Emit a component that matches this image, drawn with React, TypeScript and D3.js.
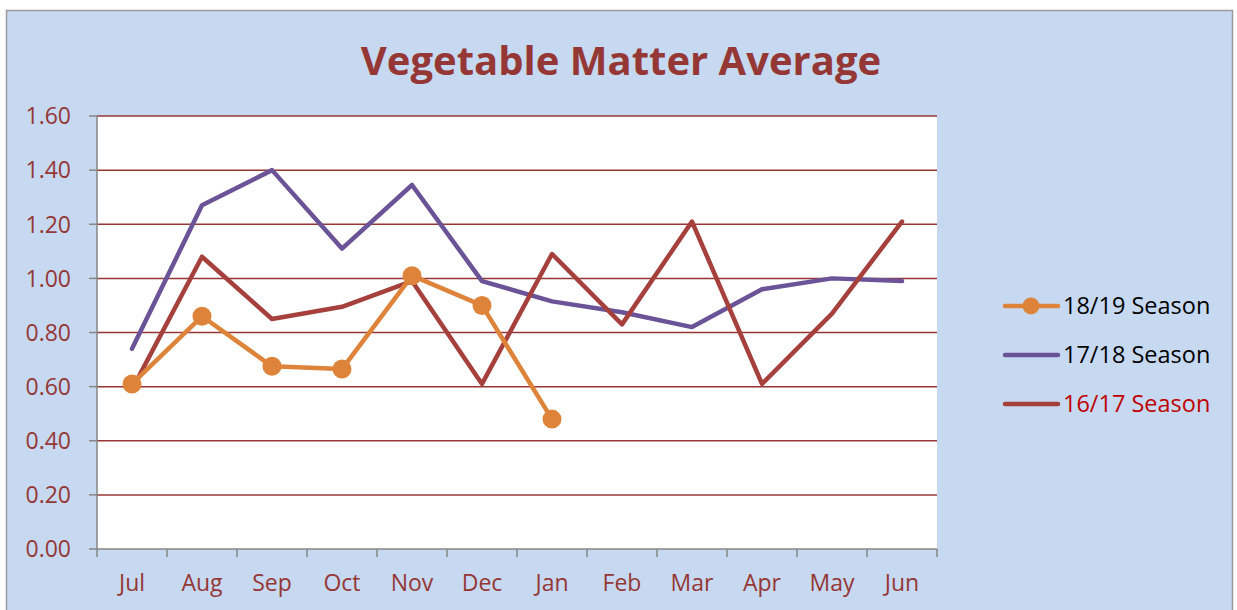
import React from 'react';
import * as d3 from 'd3';

const months = ['Jul', 'Aug', 'Sep', 'Oct', 'Nov', 'Dec', 'Jan', 'Feb', 'Mar', 'Apr', 'May', 'Jun'];
const season1819 = [0.61, 0.86, 0.675, 0.665, 1.01, 0.9, 0.48];
const season1718 = [0.74, 1.27, 1.4, 1.11, 1.345, 0.99, 0.915, 0.875, 0.82, 0.96, 1.0, 0.99];
const season1617 = [0.59, 1.08, 0.85, 0.895, 0.99, 0.61, 1.09, 0.83, 1.21, 0.61, 0.87, 1.21];
const yTicks = [0, 0.2, 0.4, 0.6, 0.8, 1.0, 1.2, 1.4, 1.6];

const W = 1237;
const H = 610;
const plot = { left: 97, top: 116, right: 937, bottom: 549 };
const font = '"Open Sans", Lato, sans-serif';
const darkRed = '#953735';

export default function App() {
  const x = d3.scaleBand<string>().domain(months).range([plot.left, plot.right]);
  const y = d3.scaleLinear().domain([0, 1.6]).range([plot.bottom, plot.top]);
  const cx = (m: string) => (x(m) as number) + x.bandwidth() / 2;

  const line = d3
    .line<number>()
    .x((_, i) => cx(months[i]))
    .y((d) => y(d));

  const series = [
    { name: '18/19 Season', values: season1819, color: '#dd843a', marker: true, text: '#000' },
    { name: '17/18 Season', values: season1718, color: '#6a5396', marker: false, text: '#000' },
    { name: '16/17 Season', values: season1617, color: '#a5403d', marker: false, text: '#c00000' },
  ];
  const drawOrder = [series[1], series[2], series[0]];

  return (
    <svg width={W} height={H} style={{ position: 'absolute', left: 0, top: 0 }}>
      <rect x={6.5} y={10.5} width={1226} height={620} fill="#c6d9f1" stroke="#9a9a9a" strokeWidth={1.5} />
      <rect x={plot.left} y={plot.top} width={plot.right - plot.left} height={plot.bottom - plot.top} fill="#fff" />
      <text x={621} y={75} textAnchor="middle" fontFamily={font} fontWeight="bold" fontSize={40} fill={darkRed}>
        Vegetable Matter Average
      </text>

      {yTicks.map((t) => (
        <g key={t}>
          {t > 0 && (
            <line x1={plot.left} x2={plot.right} y1={y(t)} y2={y(t)} stroke={darkRed} strokeWidth={1.5} />
          )}
          <line x1={plot.left - 8} x2={plot.left} y1={y(t)} y2={y(t)} stroke="#868686" strokeWidth={1.5} />
          <text x={71} y={y(t)} dy="0.36em" textAnchor="end" fontFamily={font} fontSize={23} fill={darkRed}>
            {t.toFixed(2)}
          </text>
        </g>
      ))}

      <line x1={plot.left} x2={plot.left} y1={plot.top} y2={plot.bottom} stroke="#868686" strokeWidth={1.5} />
      <line x1={plot.left} x2={plot.right} y1={plot.bottom} y2={plot.bottom} stroke="#868686" strokeWidth={1.5} />
      {months.map((m) => (
        <g key={m}>
          <line x1={x(m) as number} x2={x(m) as number} y1={plot.bottom} y2={plot.bottom + 8} stroke="#868686" strokeWidth={1.5} />
          <text x={cx(m)} y={591} textAnchor="middle" fontFamily={font} fontSize={23} fill={darkRed}>
            {m}
          </text>
        </g>
      ))}
      <line x1={plot.right} x2={plot.right} y1={plot.bottom} y2={plot.bottom + 8} stroke="#868686" strokeWidth={1.5} />

      {drawOrder.map((s) => (
        <g key={s.name}>
          <path d={line(s.values) as string} fill="none" stroke={s.color} strokeWidth={4.5} strokeLinejoin="round" strokeLinecap="round" />
          {s.marker &&
            s.values.map((v, i) => <circle key={i} cx={cx(months[i])} cy={y(v)} r={9.5} fill={s.color} />)}
        </g>
      ))}

      {series.map((s, i) => {
        const ly = 306 + i * 49;
        return (
          <g key={s.name}>
            <line x1={1005} x2={1058} y1={ly} y2={ly} stroke={s.color} strokeWidth={4.5} strokeLinecap="round" />
            {s.marker && <circle cx={1031} cy={ly} r={8.5} fill={s.color} />}
            <text x={1063} y={ly} dy="0.36em" fontFamily={font} fontSize={23.5} fill={s.text}>
              {s.name}
            </text>
          </g>
        );
      })}
    </svg>
  );
}
